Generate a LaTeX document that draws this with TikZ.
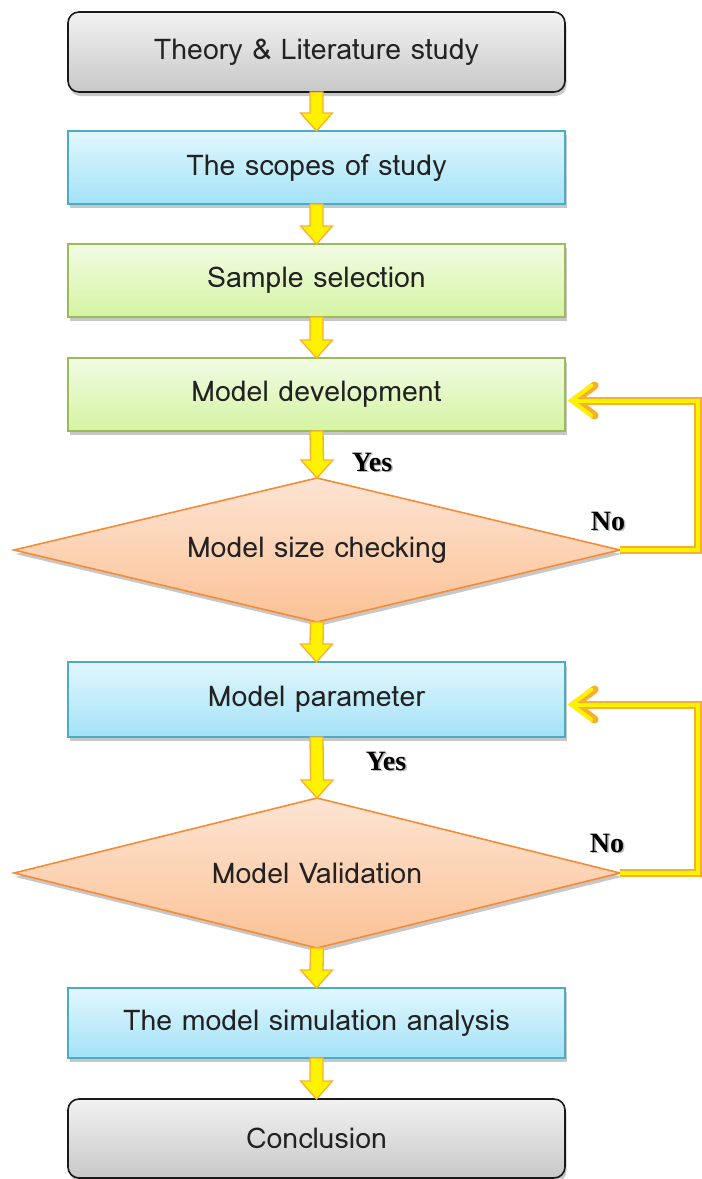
\documentclass[tikz,border=0pt]{standalone}
\usepackage{fontspec}
\newfontfamily\boxfont{Loma}
\newfontfamily\labelfont{Liberation Serif}
\usetikzlibrary{shapes.geometric,shadows,calc,arrows.meta}

\definecolor{greytop}{HTML}{F2F2F2}
\definecolor{greybot}{HTML}{C8C8C8}
\definecolor{bluetop}{HTML}{E2F7FD}
\definecolor{bluebot}{HTML}{A3E2F7}
\definecolor{blueedge}{HTML}{4BACC6}
\definecolor{greentop}{HTML}{F2FBE4}
\definecolor{greenbot}{HTML}{D5F4A3}
\definecolor{greenedge}{HTML}{9BBB59}
\definecolor{peachtop}{HTML}{FDE4D3}
\definecolor{peachbot}{HTML}{FBC296}
\definecolor{peachedge}{HTML}{F68B36}
\definecolor{arrowfill}{HTML}{FFF200}
\definecolor{arrowedge}{HTML}{F7B02E}
\definecolor{inktext}{HTML}{222222}

\newcommand\flowarrow[2]{%
  \draw[blockarrow] ($(#1.south)+(-6.5,0)$) -- ($(#2.north)+(-6.5,-18)$)
    -- ($(#2.north)+(-16,-18)$) -- (#2.north) -- ($(#2.north)+(16,-18)$)
    -- ($(#2.north)+(6.5,-18)$) -- ($(#1.south)+(6.5,0)$) -- cycle;}

\newcommand\answer[2]{%
  \node[text=gray!55] at ($(#1)+(1.5,1.5)$) {#2};
  \node[text=black] at (#1) {#2};}

\begin{document}
\begin{tikzpicture}[x=1pt,y=-1pt,
  every node/.style={inner sep=0pt, outer sep=0pt},
  boxbase/.style={minimum width=497pt, line width=1.6pt, text=inktext,
    font=\boxfont\fontsize{28.5}{32}\selectfont,
    drop shadow={shadow xshift=1.5pt, shadow yshift=-4pt, fill=gray!55, opacity=0.8}},
  greybox/.style={boxbase, rounded corners=11pt, draw=black!90,
    top color=greytop, bottom color=greybot},
  bluebox/.style={boxbase, draw=blueedge, top color=bluetop, bottom color=bluebot},
  greenbox/.style={boxbase, draw=greenedge, top color=greentop, bottom color=greenbot},
  decision/.style={diamond, aspect=4, minimum width=606pt, line width=1.6pt,
    draw=peachedge, top color=peachtop, bottom color=peachbot, text=inktext,
    font=\boxfont\fontsize{28.5}{32}\selectfont,
    drop shadow={shadow xshift=1.5pt, shadow yshift=-4pt, fill=gray!55, opacity=0.8}},
  blockarrow/.style={fill=arrowfill, draw=arrowedge, line width=1.3pt, line join=miter},
  loopedge/.style={draw=arrowedge, line width=8pt, line join=miter,
    -{Straight Barb[length=20pt, width=30pt, line cap=round]}},
  loopcore/.style={draw=arrowfill, line width=4pt, line join=miter,
    -{Straight Barb[length=20pt, width=30pt, line cap=round]}}
]
\useasboundingbox (0,0) rectangle (702,1179);

% process steps
\node[greybox, minimum height=80pt] (theory) at (316.5,52) {Theory \& Literature study};
\node[bluebox, minimum height=73pt] (scope) at (316.5,167.5) {The scopes of study};
\node[greenbox, minimum height=73pt] (sample) at (316.5,280.5) {Sample selection};
\node[greenbox, minimum height=73pt] (develop) at (316.5,394.5) {Model development};
\node[decision, minimum height=144pt] (size) at (317,550) {Model size checking};
\node[bluebox, minimum height=75pt] (param) at (316.5,699.5) {Model parameter};
\node[decision, minimum height=150pt] (valid) at (317,873) {Model Validation};
\node[bluebox, minimum height=70pt] (sim) at (316.5,1023) {The model simulation analysis};
\node[greybox, minimum height=79pt] (concl) at (316.5,1138.5) {Conclusion};

% forward arrows
\flowarrow{theory}{scope}
\flowarrow{scope}{sample}
\flowarrow{sample}{develop}
\flowarrow{develop}{size}
\flowarrow{size}{param}
\flowarrow{param}{valid}
\flowarrow{valid}{sim}
\flowarrow{sim}{concl}

% feedback loops on "No"
\coordinate (devin) at ($(develop.east)+(3,6)$);
\coordinate (parin) at ($(param.east)+(3,5)$);
\draw[loopedge] (size.east) -- ++(78,0) |- (devin);
\draw[loopcore] (size.east) -- ++(78,0) |- (devin);
\draw[loopedge] (valid.east) -- ++(78,0) |- (parin);
\draw[loopcore] (valid.east) -- ++(78,0) |- (parin);

% answers
\coordinate (yes1) at (372,462);
\coordinate (yes2) at (386,761);
\coordinate (no1) at (608,521);
\coordinate (no2) at (607,843);
\begin{scope}[every node/.append style={font=\labelfont\bfseries\fontsize{28}{30}\selectfont}]
\answer{yes1}{Yes}
\answer{yes2}{Yes}
\answer{no1}{No}
\answer{no2}{No}
\end{scope}
\end{tikzpicture}
\end{document}
